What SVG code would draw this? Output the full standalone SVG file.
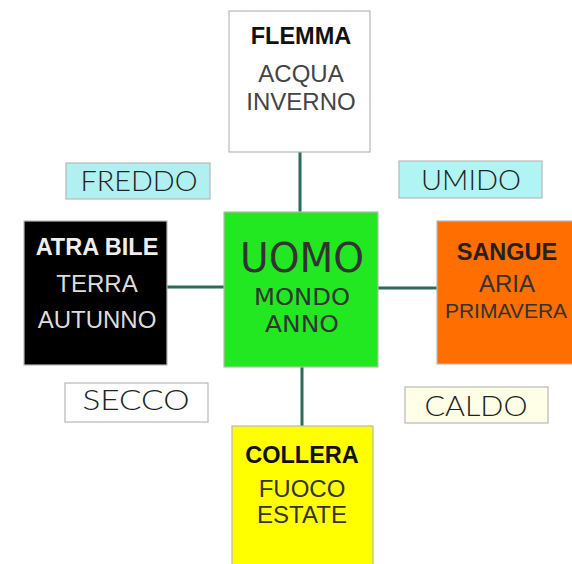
<svg xmlns="http://www.w3.org/2000/svg" width="572" height="564" viewBox="0 0 572 564">
<style>
.box{stroke:#b8b8b8;stroke-width:1.2}
.t{font-family:"Liberation Sans",Arial,sans-serif;font-size:23.5px;font-weight:bold;text-anchor:middle}
.s{font-family:"Liberation Sans",Arial,sans-serif;font-size:24px;text-anchor:middle}
.q{font-family:"Lato","Liberation Sans",sans-serif;font-weight:300;font-size:27px;text-anchor:middle;fill:#222}
.c{font-family:"DejaVu Sans","Liberation Sans",sans-serif;text-anchor:middle;fill:#333}
.ln{stroke:#2c6a5c;stroke-width:3;fill:none}
</style>
<rect width="572" height="564" fill="#fff"/>
<g id="connectors">
<line class="ln" x1="300" y1="152" x2="300" y2="212"/>
<line class="ln" x1="167" y1="287" x2="224" y2="287"/>
<line class="ln" x1="378" y1="288" x2="437" y2="288"/>
<line class="ln" x1="302" y1="367" x2="302" y2="426"/>
</g>
<g id="flemma">
<rect class="box" x="229" y="11" width="141" height="141" fill="#fff"/>
<text class="t" x="301" y="44" fill="#111">FLEMMA</text>
<text class="s" x="301" y="82" fill="#444">ACQUA</text>
<text class="s" x="301" y="110" fill="#444">INVERNO</text>
</g>
<g id="freddo">
<rect class="box" x="66" y="163" width="144" height="36" fill="#b0f0f0"/>
<text class="q" x="139" y="191" textLength="117" lengthAdjust="spacingAndGlyphs">FREDDO</text>
</g>
<g id="umido">
<rect class="box" x="399" y="161" width="143" height="37" fill="#b0f4f4"/>
<text class="q" x="471" y="190" textLength="100" lengthAdjust="spacingAndGlyphs">UMIDO</text>
</g>
<g id="atrabile">
<rect class="box" x="24" y="221" width="143" height="144" fill="#000"/>
<text class="t" x="97" y="255" fill="#eee">ATRA BILE</text>
<text class="s" x="97" y="292" fill="#ddd">TERRA</text>
<text class="s" x="97" y="328" fill="#ddd">AUTUNNO</text>
</g>
<g id="uomo">
<rect class="box" x="224" y="212" width="154" height="155" fill="#22e822"/>
<text class="c" x="302" y="272" font-size="40" textLength="124" lengthAdjust="spacingAndGlyphs">UOMO</text>
<text class="c" x="302" y="305" font-size="23" textLength="96" lengthAdjust="spacingAndGlyphs">MONDO</text>
<text class="c" x="302" y="332" font-size="23" textLength="74" lengthAdjust="spacingAndGlyphs">ANNO</text>
</g>
<g id="sangue">
<rect class="box" x="437" y="221" width="140" height="143" fill="#ff6e00"/>
<text class="t" x="507" y="260" fill="#222">SANGUE</text>
<text class="s" x="507" y="292" fill="#333">ARIA</text>
<text class="s" x="506" y="318" fill="#333" style="font-size:21px">PRIMAVERA</text>
</g>
<g id="secco">
<rect class="box" x="65" y="383" width="143" height="39" fill="#fff"/>
<text class="q" x="136" y="410" textLength="107" lengthAdjust="spacingAndGlyphs">SECCO</text>
</g>
<g id="caldo">
<rect class="box" x="405" y="387" width="143" height="36" fill="#ffffe8"/>
<text class="q" x="476" y="416" textLength="103" lengthAdjust="spacingAndGlyphs">CALDO</text>
</g>
<g id="collera">
<rect class="box" x="232" y="426" width="141" height="145" fill="#ffff00"/>
<text class="t" x="302" y="463" fill="#111">COLLERA</text>
<text class="s" x="302" y="497" fill="#333">FUOCO</text>
<text class="s" x="302" y="523" fill="#333">ESTATE</text>
</g>
</svg>
